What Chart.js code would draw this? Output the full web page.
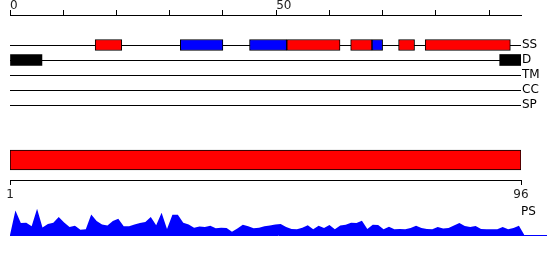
<!DOCTYPE html>
<html>
<head>
<meta charset="utf-8">
<script src="https://cdn.jsdelivr.net/npm/chart.js@4.4.0/dist/chart.umd.min.js"></script>
<style>
  html, body { margin: 0; padding: 0; background: #fff; }
  #wrap { position: relative; width: 550px; height: 260px; overflow: hidden; font-family: 'DejaVu Sans', sans-serif; }
  canvas { position: absolute; left: 0; }
  #psLabel { position: absolute; left: 521px; top: 204px; font-size: 12px; line-height: 14px; color: #000; }
</style>
</head>
<body>
<div id="wrap">
  <canvas id="tracks" style="top:0" width="550" height="115"></canvas>
  <canvas id="region" style="top:140px" width="550" height="65"></canvas>
  <canvas id="ps" style="top:200px" width="550" height="60"></canvas>
  <span id="psLabel"></span>
</div>
<script>
const seqLength = 96;
const topTicks = [0, 10, 20, 30, 40, 50, 60, 70, 80, 90];
const topTickLabels = ['0', '', '', '', '', '50', '', '', '', ''];
const trackNames = ['SS', 'D', 'TM', 'CC', 'SP'];

// secondary structure: helix red, strand blue
const helixSpans = [[16, 21], [52, 62], [64, 68], [73, 76], [78, 94]];
const strandSpans = [[32, 40], [45, 52], [68, 70]];
const disorderSpans = [[0, 6], [92, 96]];

const regionSpans = [[1, 96]];
const bottomTicks = [1, 96];

const psName = 'PS';
const psValues = [
  0, 24.5, 12, 12.3, 8.7, 26.3, 7.5, 11, 12.3, 18,
  12.5, 8, 9.2, 5.2, 5.8, 20.5, 14, 10.5, 9.5, 14,
  16.3, 8.7, 8.7, 10.5, 12, 13, 18, 9.7, 22.3, 6,
  20.3, 20.3, 12.3, 10.5, 7.2, 8.5, 8, 9.3, 6.8, 7.2,
  7, 3.2, 6.5, 10.3, 8.7, 6.7, 7.3, 8.7, 9.5, 10.5,
  11, 8, 6, 5.7, 7.3, 9.7, 5.7, 9.3, 7, 10,
  5.7, 9.5, 10.3, 12.3, 12, 14.3, 6, 10.3, 10, 5.7,
  8.3, 5.7, 6, 5.7, 7, 9.3, 7, 6, 5.7, 8,
  6.5, 7, 9.5, 12, 9, 8, 9, 6, 5.7, 5.7,
  5.7, 8, 5.7, 7, 9.3, 0
];

Chart.defaults.font.family = "'DejaVu Sans', sans-serif";
Chart.defaults.font.size = 12;
Chart.defaults.color = '#000';

const noPlugins = { legend: { display: false }, tooltip: { enabled: false } };
const spans = (list, track) => list.map(s => ({ x: s, y: trackNames.indexOf(track) }));

// feature tracks with top ruler
new Chart(document.getElementById('tracks'), {
  type: 'bar',
  data: {
    datasets: [
      { data: spans(helixSpans, 'SS'), backgroundColor: '#ff0000', borderColor: '#000', borderWidth: 1 },
      { data: spans(strandSpans, 'SS'), backgroundColor: '#0000ff', borderColor: '#000', borderWidth: 1 },
      { data: spans(disorderSpans, 'D'), backgroundColor: '#000', borderColor: '#000', borderWidth: 0 }
    ]
  },
  options: {
    indexAxis: 'y',
    responsive: false,
    animation: false,
    datasets: { bar: { grouped: false, barThickness: 11, borderSkipped: false } },
    layout: { padding: { left: 10, bottom: 10 } },
    plugins: noPlugins,
    scales: {
      x: {
        type: 'linear', position: 'top', min: 0, max: seqLength,
        afterBuildTicks: s => { s.ticks = topTicks.map(v => ({ value: v })); },
        afterFit: s => { s.height = 15; },
        ticks: { align: 'start', padding: -3, color: '#222', autoSkip: false, maxRotation: 0,
          callback: (v, i) => topTickLabels[i] },
        grid: { drawOnChartArea: false, tickLength: 5, tickColor: '#000' },
        border: { color: '#000', width: 1 }
      },
      y: {
        type: 'linear', position: 'right', min: -2, max: 4, reverse: true, offset: false,
        afterBuildTicks: s => { s.ticks = trackNames.map((n, i) => ({ value: i })); },
        afterFit: s => { s.width = 29; },
        ticks: { padding: 1, callback: v => trackNames[v] },
        grid: { color: '#000', lineWidth: 1, drawTicks: false, offset: false },
        border: { display: false }
      }
    }
  }
});

// full-length region with bottom ruler
new Chart(document.getElementById('region'), {
  type: 'bar',
  data: {
    datasets: [{
      data: regionSpans.map(s => ({ x: s, y: 0 })),
      backgroundColor: '#ff0000', borderColor: '#000', borderWidth: 1,
      barThickness: 20, borderSkipped: false
    }]
  },
  options: {
    indexAxis: 'y',
    responsive: false,
    animation: false,
    layout: { padding: { left: 10, right: 29 } },
    plugins: noPlugins,
    scales: {
      x: {
        type: 'linear', position: 'bottom', min: bottomTicks[0], max: bottomTicks[1],
        afterBuildTicks: s => { s.ticks = bottomTicks.map(v => ({ value: v })); },
        afterFit: s => { s.height = 25; },
        ticks: { padding: 3, color: '#222', autoSkip: false, maxRotation: 0 },
        grid: { drawOnChartArea: false, tickLength: 5, tickColor: '#000' },
        border: { color: '#000', width: 1 }
      },
      y: { type: 'linear', display: false, min: -1, max: 1, offset: false }
    }
  }
});

// PS profile
new Chart(document.getElementById('ps'), {
  type: 'line',
  data: {
    datasets: [{
      data: psValues.map((v, i) => ({ x: i, y: v })),
      backgroundColor: '#0000ff', borderColor: 'rgba(0,0,0,0)', borderWidth: 0,
      pointRadius: 0, fill: 'origin', tension: 0
    }]
  },
  options: {
    responsive: false,
    animation: false,
    layout: { padding: { left: 10, right: 4, bottom: 25 } },
    plugins: noPlugins,
    scales: {
      x: {
        type: 'linear', min: 0, max: 99,
        afterFit: s => { s.height = 0; },
        ticks: { display: false },
        grid: { display: false },
        border: { color: '#0000ff', width: 1 }
      },
      y: { display: false, min: 0, max: 35 }
    }
  }
});

document.getElementById('psLabel').textContent = psName;
</script>
</body>
</html>
